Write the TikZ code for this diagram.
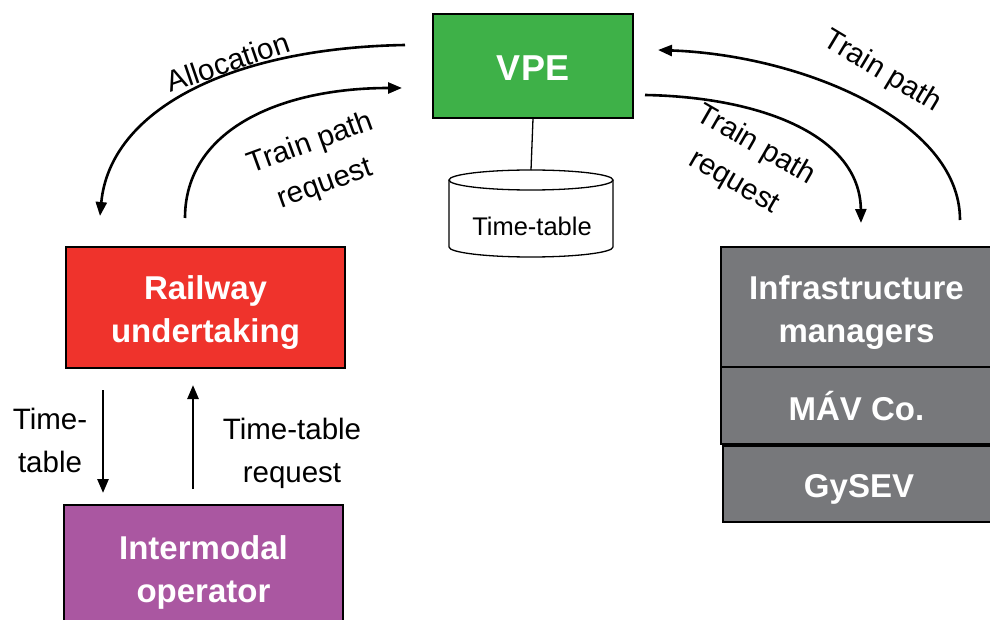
\documentclass[tikz,border=0pt]{standalone}
\usepackage{fontspec}
\setmainfont{Liberation Sans}
\usetikzlibrary{arrows.meta}
\definecolor{vpegreen}{RGB}{62,177,72}
\definecolor{rured}{RGB}{239,51,44}
\definecolor{impurple}{RGB}{170,87,161}
\definecolor{imgray}{RGB}{119,120,123}
\tikzset{
  box/.style={draw=black, line width=1.3pt, inner sep=0pt},
  boxtext/.style={text=white, align=center,
    font=\fontsize{33}{43}\selectfont\bfseries, inner sep=0pt},
  lbl/.style={align=center, font=\fontsize{29.5}{43}\selectfont, inner sep=0pt},
  flow/.style={line width=2.6pt, -{Triangle[length=14pt,width=11pt]}},
}
\begin{document}
\begin{tikzpicture}[x=1pt,y=-1pt]
\useasboundingbox (0,0) rectangle (990,620);
\clip (0,0) rectangle (990,620);
% boxes
\node[box, fill=vpegreen, minimum width=200pt, minimum height=104pt] (vpe) at (533,66) {};
\node[boxtext, font=\fontsize{36}{43}\selectfont\bfseries] (vpet) at (533,68) {VPE};
\node[box, fill=rured, minimum width=279pt, minimum height=121pt] (ru) at (205.5,307.5) {};
\node[boxtext] (rut) at (205.5,312.5) {Railway\\undertaking};
\node[box, fill=impurple, minimum width=279pt, minimum height=127pt] (io) at (203.5,568.5) {};
\node[boxtext] (iot) at (203.5,572.5) {Intermodal\\operator};
\node[box, fill=imgray, minimum width=271pt, minimum height=120pt] (im) at (856.5,307) {};
\node[boxtext] (imt) at (856.5,313) {Infrastructure\\managers};
\node[box, fill=imgray, minimum width=271pt, minimum height=77pt] (mav) at (856.5,405.5) {};
\node[boxtext] (mavt) at (856.5,406) {MÁV Co.};
\node[box, fill=imgray, minimum width=269pt, minimum height=76pt] (gysev) at (857.5,484) {};
\node[boxtext] (gysevt) at (859,489) {GySEV};
% cylinder
\filldraw[fill=white, line width=1.3pt] (449,180) -- (449,247)
  arc[start angle=180, end angle=0, x radius=82, y radius=10] -- (613,180);
\draw[line width=1.3pt] (531,180) ellipse[x radius=82, y radius=10];
\coordinate (cyltop) at (531,170);
\node[lbl, font=\fontsize{25.5}{30}\selectfont] (tt) at (532,226) {Time-table};
\draw[line width=1.3pt] (vpe.south) -- (cyltop);
% coordinates for curved connectors
\coordinate (allocS) at (405,45);
\coordinate (allocE) at (100,216);
\coordinate (tprS) at (185,218);
\coordinate (tprE) at (402,88);
\coordinate (tpS) at (960,220);
\coordinate (tpE) at (658,50);
\coordinate (tpr2S) at (645,95);
\coordinate (tpr2E) at (861,223);
\draw[flow] (allocS) .. controls (230,48) and (110,110) .. (allocE);
\draw[flow] (tprS) .. controls (185,130) and (280,88) .. (tprE);
\draw[flow] (tpS) .. controls (960,120) and (800,55) .. (tpE);
\draw[flow] (tpr2S) .. controls (760,97) and (860,135) .. (tpr2E);
% vertical arrows
\coordinate (ttdS) at (103,390);
\coordinate (ttdE) at (103,493);
\coordinate (ttuS) at (193,489);
\coordinate (ttuE) at (193,385);
\draw[flow] (ttdS) -- (ttdE);
\draw[flow] (ttuS) -- (ttuE);
% labels
\node[lbl, rotate=19] (lalloc) at (228,62) {Allocation};
\node[lbl, rotate=20] (ltpr) at (318,164) {Train path\\request};
\node[lbl, rotate=-31] (ltp) at (882,72) {Train path};
\node[lbl, rotate=-30] (ltpr2) at (745,164) {Train path\\request};
\node[lbl] (ltt) at (50,440) {Time-\\table};
\node[lbl] (lttr) at (292,453) {Time-table\\request};
\end{tikzpicture}
\end{document}
